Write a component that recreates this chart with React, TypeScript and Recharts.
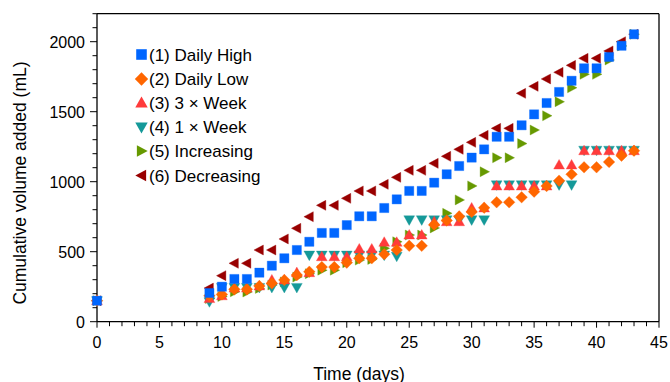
import React from 'react';
import { ScatterChart, Scatter, XAxis, YAxis, ReferenceLine, Legend } from 'recharts';

// ---- data ----
const DAYS = [0, 9, 10, 11, 12, 13, 14, 15, 16, 17, 18, 19, 20, 21, 22, 23, 24, 25, 26, 27, 28, 29, 30, 31, 32, 33, 34, 35, 36, 37, 38, 39, 40, 41, 42, 43];

const DAILY_HIGH = [150,
  205, 250, 305, 305, 350, 400, 453, 512, 571, 634,
  634, 690, 753, 753, 812, 874, 934, 934, 993, 1053,
  1112, 1172, 1231, 1321, 1321, 1403, 1481, 1562, 1641, 1721,
  1810, 1810, 1891, 1971, 2053];

const DAILY_LOW = [150,
  185, 195, 231, 231, 255, 274, 298, 333, 357, 390,
  390, 422, 453, 453, 482, 512, 542, 542, 693, 723,
  752, 784, 814, 853, 853, 889, 929, 969, 1007, 1053,
  1103, 1103, 1141, 1186, 1221];

const THREE_PER_WEEK = [150,
  165, 185, 240, 240, 255, 298, 298, 350, 350, 464,
  464, 464, 519, 519, 567, 567, 619, 619, 714, 714,
  714, 812, 812, 969, 969, 969, 969, 969, 1119, 1119,
  1221, 1221, 1221, 1221, 1221];

const ONE_PER_WEEK = [150,
  143, 245, 245, 245, 245, 245, 245, 245, 476, 476,
  476, 476, 476, 476, 476, 468, 728, 728, 728, 728,
  728, 728, 728, 978, 978, 978, 978, 978, 978, 978,
  1225, 1225, 1225, 1225, 1225];

const INCREASING = [150,
  165, 180, 214, 212, 238, 262, 284, 319, 343, 368,
  368, 421, 440, 445, 524, 571, 619, 619, 670, 774,
  870, 970, 1071, 1171, 1171, 1272, 1369, 1471, 1571, 1671,
  1767, 1767, 1869, 1970, 2053];

const DECREASING = [150,
  240, 329, 417, 417, 512, 512, 591, 667, 750, 831,
  831, 881, 934, 934, 981, 1031, 1081, 1081, 1131, 1181,
  1231, 1281, 1331, 1381, 1381, 1631, 1681, 1734, 1781, 1831,
  1881, 1881, 1934, 2000, 2053];

const SERIES_NAMES = ['(1) Daily High', '(2) Daily Low', '(3) 3 × Week', '(4) 1 × Week', '(5) Increasing', '(6) Decreasing'];

const X_MAJOR = [0, 5, 10, 15, 20, 25, 30, 35, 40, 45];
const Y_MAJOR = [0, 500, 1000, 1500, 2000];
const X_TICKS = Array.from({ length: 46 }, (_, i) => i);
const Y_TICKS = Array.from({ length: 23 }, (_, i) => i * 100);

const X_TITLE = 'Time (days)';
const Y_TITLE = 'Cumulative volume added (mL)';

const FONT = '"Liberation Sans", Arial, Helvetica, sans-serif';

type Kind = 'square' | 'diamond' | 'up' | 'down' | 'left' | 'right';

const STYLES: { kind: Kind; color: string }[] = [
  { kind: 'square', color: '#0066ff' },
  { kind: 'diamond', color: '#ff6600' },
  { kind: 'up', color: '#ff3b3b' },
  { kind: 'down', color: '#159999' },
  { kind: 'right', color: '#669900' },
  { kind: 'left', color: '#990000' },
];

const VALUES = [DAILY_HIGH, DAILY_LOW, THREE_PER_WEEK, ONE_PER_WEEK, INCREASING, DECREASING];

function markerPath(kind: Kind, cx: number, cy: number, k = 1): string {
  const a = 4.6 * k;
  switch (kind) {
    case 'square':
      return `M${cx - a},${cy - a}h${2 * a}v${2 * a}h${-2 * a}Z`;
    case 'diamond': {
      const d = 5.8 * k;
      return `M${cx},${cy - d}L${cx + d},${cy}L${cx},${cy + d}L${cx - d},${cy}Z`;
    }
    case 'up':
      return `M${cx},${cy - 5.6 * k}L${cx + 5.4 * k},${cy + 4 * k}L${cx - 5.4 * k},${cy + 4 * k}Z`;
    case 'down':
      return `M${cx},${cy + 5.6 * k}L${cx + 5.4 * k},${cy - 4 * k}L${cx - 5.4 * k},${cy - 4 * k}Z`;
    case 'left':
      return `M${cx - 5.4 * k},${cy}L${cx + 4 * k},${cy - 5 * k}L${cx + 4 * k},${cy + 5 * k}Z`;
    case 'right':
      return `M${cx + 5.4 * k},${cy}L${cx - 4 * k},${cy - 5 * k}L${cx - 4 * k},${cy + 5 * k}Z`;
  }
}

const makeShape = (kind: Kind, color: string) => (props: any) => {
  const { cx, cy } = props;
  if (cx == null || cy == null) return <g />;
  return <path d={markerPath(kind, cx, cy)} fill={color} stroke={color} strokeOpacity={0.35} strokeWidth={1} />;
};

const XTick = (props: any) => {
  const { x, y, payload } = props;
  const v = payload.value;
  const major = X_MAJOR.includes(v);
  return (
    <g>
      <line x1={x} x2={x} y1={y} y2={y + (major ? 6 : 4.5)} stroke="#000" strokeWidth={1} />
      {major && (
        <text x={x} y={y + 26} textAnchor="middle" fontSize={16} fontFamily={FONT} fill="#000">
          {v}
        </text>
      )}
    </g>
  );
};

const YTick = (props: any) => {
  const { x, y, payload } = props;
  const v = payload.value;
  const major = Y_MAJOR.includes(v);
  return (
    <g>
      <line x1={x - (major ? 7 : 4.5)} x2={x} y1={y} y2={y} stroke="#000" strokeWidth={1} />
      {major && (
        <text x={x - 12} y={y + 5.8} textAnchor="end" fontSize={16} fontFamily={FONT} fill="#000">
          {v}
        </text>
      )}
    </g>
  );
};

const LEGEND_Y = [54.5, 79, 103, 127, 151, 175.5];

const Overlay = () => (
  <svg width={670} height={382} style={{ position: 'absolute', left: 0, top: 0, overflow: 'visible' }}>
    {SERIES_NAMES.map((name, i) => (
      <g key={name}>
        <path d={markerPath(STYLES[i].kind, 141.5, LEGEND_Y[i], 1.15)} fill={STYLES[i].color} />
        <text x={149} y={LEGEND_Y[i] + 6} fontSize={17} fontFamily={FONT} fill="#000">
          {name}
        </text>
      </g>
    ))}
    <text x={359} y={380} textAnchor="middle" fontSize={17.5} fontFamily={FONT} fill="#000">
      {X_TITLE}
    </text>
    <text
      x={25.6}
      y={183}
      textAnchor="middle"
      fontSize={17.5}
      fontFamily={FONT}
      fill="#000"
      transform="rotate(-90 25.6 183)"
    >
      {Y_TITLE}
    </text>
  </svg>
);

export default function App() {
  const order = [5, 4, 3, 2, 1, 0];
  return (
    <div style={{ position: 'absolute', left: 0, top: 0, width: 670, height: 382, background: '#fff' }}>
      <ScatterChart width={670} height={382} margin={{ top: 13.7, right: 11, bottom: 0, left: 0 }}>
        <XAxis
          type="number"
          dataKey="day"
          domain={[0, 45]}
          ticks={X_TICKS}
          interval={0}
          tickLine={false}
          tickSize={0}
          tickMargin={0}
          tick={XTick}
          height={60.3}
          axisLine={{ stroke: '#000', strokeWidth: 1.3 }}
        />
        <YAxis
          type="number"
          dataKey="v"
          domain={[0, 2200]}
          ticks={Y_TICKS}
          interval={0}
          tickLine={false}
          tickSize={0}
          tickMargin={0}
          tick={YTick}
          width={97}
          axisLine={{ stroke: '#000', strokeWidth: 1.3 }}
        />
        <ReferenceLine y={2200} stroke="#000" strokeWidth={1.3} />
        <ReferenceLine x={45} stroke="#000" strokeWidth={1.3} />
        {order.map((i) => (
          <Scatter
            key={SERIES_NAMES[i]}
            name={SERIES_NAMES[i]}
            data={DAYS.map((d, j) => ({ day: d, v: VALUES[i][j] }))}
            shape={makeShape(STYLES[i].kind, STYLES[i].color)}
            isAnimationActive={false}
          />
        ))}
        <Legend
          layout="vertical"
          align="center"
          verticalAlign="middle"
          wrapperStyle={{ left: 0, top: 0, width: 670, height: 382, pointerEvents: 'none' }}
          content={() => <Overlay />}
        />
      </ScatterChart>
    </div>
  );
}
